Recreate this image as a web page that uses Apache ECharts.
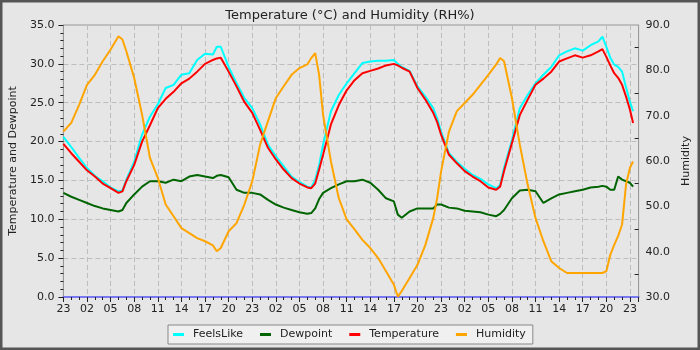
<!DOCTYPE html>
<html><head><meta charset="utf-8">
<script src="https://cdn.jsdelivr.net/npm/echarts@6/dist/echarts.min.js"></script>
<style>html,body{margin:0;padding:0;background:#e6e6e6}#c{width:700px;height:350px}</style>
</head><body><div id="c"></div>
<script>
const hours = [0,1,2,3,4,5,6,7,7.5,8,9,10,11,12,13,14,15,16,17,18,19,19.5,20,21,22,23,24,25,26,27,28,29,30,31,31.5,32,32.5,33,34,35,36,37,38,39,40,41,42,42.5,43,44,45,46,47,47.5,48,49,50,51,52,53,54,55,55.5,56,57,58,59,60,61,62,63,64,65,66,67,68,68.5,69,69.5,70,70.5,71,71.5,72,72.4];
const startHour = 23;
const feelsLike = [20.6,19.3,17.9,16.6,15.6,14.9,14.1,13.6, 13.7, 15.1,17.4,20.9,23.2,24.8,26.9,27.3,28.6,28.8,30.5,31.3,31.2, 32.2, 32.2,29.6,27.5,25.6,24.3,22.2,19.6,18.1,16.8,15.5,14.8,14.2, 14.1, 15.1, 17.0, 19.6,23.9,26.0,27.5,28.8,30.1,30.3,30.4,30.4,30.5, 30.0, 29.6,29.1,27.1,25.8,24.3, 23.0, 21.3,18.5,17.4,16.5,15.7,15.2,14.5,14.0, 14.4, 16.6,20.2,24.3,26.0,27.5,28.6,29.6,31.1,31.6,32.0,31.7,32.4,32.9, 33.5, 32.2, 30.8, 29.9, 29.6, 29.0, 27.0, 25.1, 23.9];
const dewpoint = [13.4,12.9,12.5,12.1,11.7,11.4,11.2,11.0, 11.2, 12.1,13.2,14.2,14.9,14.9,14.7,15.1,14.9,15.5,15.7,15.5,15.3, 15.6, 15.7,15.4,13.8,13.4,13.4,13.2,12.5,11.9,11.5,11.2,10.9,10.7, 10.8, 11.4, 12.6, 13.4,14.0,14.5,14.9,14.9,15.1,14.7,13.8,12.7,12.3, 10.6, 10.2,11.0,11.4,11.4,11.4, 11.9, 11.9,11.5,11.4,11.1,11.0,10.9,10.6,10.4, 10.7, 11.2,12.7,13.7,13.8,13.6,12.1,12.7,13.2,13.4,13.6,13.8,14.1,14.2, 14.3, 14.2, 13.8, 13.8, 15.5, 15.1, 14.9, 14.7, 14.2];
const temperature = [19.7,18.5,17.4,16.3,15.5,14.6,14.0,13.4, 13.6, 14.9,17.0,20.0,22.1,24.3,25.5,26.4,27.5,28.1,29.0,30.0,30.5, 30.7, 30.8,29.0,27.1,25.1,23.7,21.5,19.2,17.7,16.4,15.3,14.6,14.1, 14.0, 14.6, 16.4, 18.3,22.2,24.7,26.6,27.9,28.8,29.1,29.4,29.8,30.0, 29.8, 29.5,29.0,26.9,25.4,23.7, 22.5, 20.9,18.3,17.2,16.2,15.5,14.9,14.1,13.8, 14.2, 16.2,19.8,23.4,25.4,27.3,28.1,29.0,30.3,30.7,31.1,30.8,31.1,31.6, 31.9, 30.9, 29.8, 28.8, 28.2, 27.3, 25.8, 24.1, 22.4];
const humidity = [66.5,68.4,72.4,76.8,79.0,82.0,84.6,87.5, 86.8, 84.2,78.3,70.2,60.7,56.3,50.4,47.8,45.2,44.1,43.0,42.3,41.4, 40.1, 40.8,44.5,46.3,50.4,55.5,63.6,68.8,73.9,76.5,79.0,80.5,81.3, 82.7, 83.8, 79.0, 70.2,59.9,51.8,47.1,44.9,42.6,40.8,38.6,35.7,32.7, 30.1, 31.3,34.2,37.1,41.5,47.4, 51.8, 57.7,66.5,71.0,72.8,74.6,76.8,79.0,81.3, 82.7, 82.0,73.9,63.6,54.8,47.4,42.3,37.9,36.4,35.3,35.3,35.3,35.3,35.3, 35.3, 35.7, 39.3, 41.5, 43.5, 46.0, 54.8, 58.5, 59.9];

const F = 'DejaVu Sans';
const pair = arr => hours.map((h, i) => [h, arr[i]]);
const mk = (name, arr, color, yi) => ({
  name, type: 'line', data: pair(arr), yAxisIndex: yi, showSymbol: false,
  lineStyle: { color, width: 2 }, itemStyle: { color }, animation: false
});
const chart = echarts.init(document.getElementById('c'), null, { renderer: 'canvas' });
chart.setOption({
  backgroundColor: '#e6e6e6',
  animation: false,
  title: { text: 'Temperature (°C) and Humidity (RH%)', left: 'center', top: 4,
    textStyle: { fontFamily: F, fontSize: 13, fontWeight: 'normal', color: '#222' } },
  graphic: [{ type: 'rect', shape: { x: 1, y: 1, width: 698, height: 348 },
    style: { fill: null, stroke: '#555', lineWidth: 3 }, silent: true }],
  grid: { left: 55, right: 60, top: 25, bottom: 53, show: true, borderColor: '#999', borderWidth: 1, backgroundColor: '#e6e6e6' },
  legend: {
    left: 168, top: 325, padding: [4, 7, 4, 5], itemGap: 17,
    backgroundColor: '#f0f0f0', borderColor: '#888', borderWidth: 1,
    icon: 'rect', itemWidth: 11, itemHeight: 3,
    textStyle: { fontFamily: F, fontSize: 11, color: '#222', padding: [0, 0, 0, 4] },
    data: ['FeelsLike', 'Dewpoint', 'Temperature', 'Humidity']
  },
  xAxis: {
    type: 'value', min: 0, max: 73.1, interval: 3,
    axisLine: { lineStyle: { color: '#7878f0', width: 2 } },
    axisTick: { length: 5, lineStyle: { color: '#222' } },
    minorTick: { show: true, splitNumber: 3, length: 3, lineStyle: { color: '#222' } },
    splitLine: { show: true, lineStyle: { color: '#bdbdbd', type: [5, 3] } },
    axisLabel: { fontFamily: F, fontSize: 11, color: '#222', margin: 7,
      formatter: v => (Math.abs(v % 3) < 1e-6) ? String((startHour + v) % 24).padStart(2, '0') : '' }
  },
  yAxis: [{
    type: 'value', min: 0, max: 35, interval: 5,
    name: 'Temperature and Dewpoint', nameLocation: 'middle', nameGap: 32, nameRotate: 90,
    nameTextStyle: { fontFamily: F, fontSize: 11, color: '#222' },
    axisLine: { show: true, lineStyle: { color: '#999' } },
    axisTick: { show: true, length: 5, lineStyle: { color: '#222' } },
    minorTick: { show: true, splitNumber: 5, length: 3, lineStyle: { color: '#222' } },
    splitLine: { show: true, lineStyle: { color: '#bdbdbd', type: [5, 3] } },
    axisLabel: { fontFamily: F, fontSize: 11, color: '#222', margin: 9, formatter: v => v.toFixed(1) }
  }, {
    type: 'value', min: 30, max: 90, interval: 10, position: 'right',
    name: 'Humidity', nameLocation: 'middle', nameGap: 35, nameRotate: 90,
    nameTextStyle: { fontFamily: F, fontSize: 11, color: '#222' },
    axisLine: { show: true, lineStyle: { color: '#999' } },
    axisTick: { show: false, inside: true },
    minorTick: { show: true, splitNumber: 2, length: 4, lineStyle: { color: '#222' } },
    splitLine: { show: false },
    axisLabel: { fontFamily: F, fontSize: 11, color: '#222', margin: 7, formatter: v => v.toFixed(1) }
  }],
  series: [
    mk('FeelsLike', feelsLike, '#00ffff', 0),
    mk('Dewpoint', dewpoint, '#006400', 0),
    mk('Temperature', temperature, '#ff0000', 0),
    mk('Humidity', humidity, '#ffa500', 1)
  ]
});
</script></body></html>
